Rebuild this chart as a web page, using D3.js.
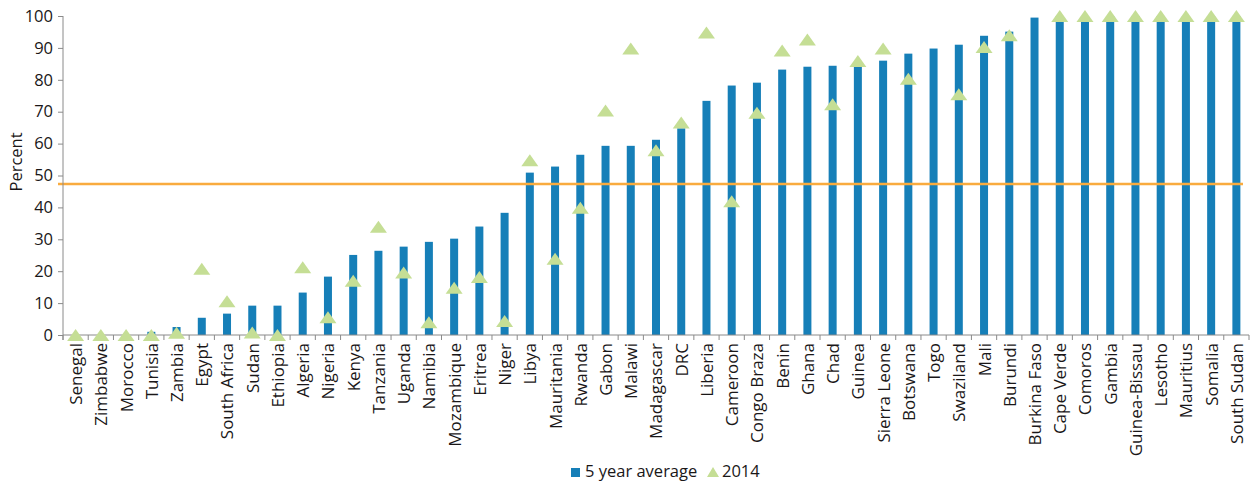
<!DOCTYPE html>
<html>
<head>
<meta charset="utf-8">
<script src="https://cdn.jsdelivr.net/npm/d3@7"></script>
<style>
  html, body { margin: 0; padding: 0; background: #fff; }
  svg { display: block; font-family: "Open Sans", "DejaVu Sans", sans-serif; }
</style>
</head>
<body>
<svg id="chart" width="1255" height="482"></svg>
<script>
// Countries, ordered by their 5-year average
const countries = [
  "Senegal", "Zimbabwe", "Morocco", "Tunisia", "Zambia", "Egypt", "South Africa",
  "Sudan", "Ethiopia", "Algeria", "Nigeria", "Kenya", "Tanzania", "Uganda",
  "Namibia", "Mozambique", "Eritrea", "Niger", "Libya", "Mauritania", "Rwanda",
  "Gabon", "Malawi", "Madagascar", "DRC", "Liberia", "Cameroon", "Congo Braza",
  "Benin", "Ghana", "Chad", "Guinea", "Sierra Leone", "Botswana", "Togo",
  "Swaziland", "Mali", "Burundi", "Burkina Faso", "Cape Verde", "Comoros",
  "Gambia", "Guinea-Bissau", "Lesotho", "Mauritius", "Somalia", "South Sudan"
];

// 5 year average (percent)
const fiveYearAverage = [
  0, 0, 0, 1, 2.5, 5.4, 6.7,
  9.2, 9.2, 13.3, 18.3, 25.1, 26.4, 27.7,
  29.2, 30.2, 34, 38.3, 50.9, 52.8, 56.5,
  59.3, 59.3, 61.2, 64.8, 73.4, 78.2, 79.1,
  83.2, 84.1, 84.4, 85, 86, 88.2, 89.8,
  91, 93.8, 95.1, 99.5, 100, 100,
  100, 100, 100, 100, 100, 100
];

// 2014 value (percent); null where no 2014 figure is shown
const value2014 = [
  0, 0, 0, 0, 0.7, 20.8, 10.6,
  0.8, 0, 21.2, 5.6, 17, 33.9, 19.6,
  4.0, 14.8, 18.2, 4.4, 54.8, 23.9, 39.9,
  70.4, 89.8, 57.9, 66.6, 94.8, 41.9, 69.7,
  89.2, 92.6, 72.3, 85.9, 89.8, 80.3, null,
  75.5, 90.3, 94, null, 100, 100,
  100, 100, 100, 100, 100, 100
];

// Continental average reference line (percent)
const averageLine = 47.3;

const yTicks = [0, 10, 20, 30, 40, 50, 60, 70, 80, 90, 100];
const legendLabels = ["5 year average", "2014"];

const colors = {
  bar: "#167fb8",
  marker: "#c5de95",
  line: "#f9ab3e",
  axis: "#8a8a8a",
  text: "#1a1718"
};

const svg = d3.select("#chart");
const plotLeft = 63, plotRight = 1249, plotTop = 16, plotBottom = 335;

const x = d3.scaleBand().domain(countries).range([plotLeft, plotRight]).padding(0);
const y = d3.scaleLinear().domain([0, 100]).range([plotBottom, plotTop]);

const rows = countries.map((c, i) => ({ c, avg: fiveYearAverage[i], v: value2014[i] }));

// Bars: 5 year average
const barW = 8;
svg.append("g")
  .selectAll("rect")
  .data(rows.filter(d => d.avg > 0))
  .join("rect")
  .attr("x", d => x(d.c) + x.bandwidth() / 2 - barW / 2)
  .attr("y", d => y(d.avg))
  .attr("width", barW)
  .attr("height", d => y(0) - y(d.avg))
  .attr("fill", colors.bar);

// Reference line
svg.append("line")
  .attr("x1", plotLeft - 5).attr("x2", plotRight - 6)
  .attr("y1", y(averageLine)).attr("y2", y(averageLine))
  .attr("stroke", colors.line)
  .attr("stroke-width", 2.5);

// Y axis
const yAxis = svg.append("g")
  .attr("transform", `translate(${plotLeft},0)`)
  .call(d3.axisLeft(y).tickValues(yTicks).tickSize(5).tickPadding(5).tickSizeOuter(0));
yAxis.select(".domain").remove();
yAxis.selectAll(".tick line").attr("stroke", colors.axis);
yAxis.selectAll(".tick text")
  .attr("fill", colors.text)
  .style("font-size", "16.5px")
  .style("font-family", "'Open Sans', sans-serif");
svg.append("line")
  .attr("x1", plotLeft).attr("x2", plotLeft)
  .attr("y1", plotTop).attr("y2", plotBottom + 5)
  .attr("stroke", colors.axis);

// X axis baseline with ticks at category boundaries
svg.append("line")
  .attr("x1", plotLeft).attr("x2", plotRight)
  .attr("y1", plotBottom).attr("y2", plotBottom)
  .attr("stroke", colors.axis);
const bounds = countries.map(c => x(c)).concat([plotRight]);
svg.append("g")
  .selectAll("line")
  .data(bounds)
  .join("line")
  .attr("x1", d => d).attr("x2", d => d)
  .attr("y1", plotBottom).attr("y2", plotBottom + 5)
  .attr("stroke", colors.axis);

// Category labels (rotated)
svg.append("g")
  .selectAll("text")
  .data(countries)
  .join("text")
  .attr("transform", d => `translate(${x(d) + x.bandwidth() / 2},${plotBottom + 8}) rotate(-90)`)
  .attr("dy", "0.38em")
  .attr("text-anchor", "end")
  .attr("fill", colors.text)
  .style("font-size", "17px")
  .text(d => d);

// 2014 markers: triangles
const tri = "M0,-6L8.5,6L-8.5,6Z";
svg.append("g")
  .selectAll("path")
  .data(rows.filter(d => d.v !== null))
  .join("path")
  .attr("transform", d => `translate(${x(d.c) + x.bandwidth() / 2},${y(d.v)})`)
  .attr("d", tri)
  .attr("fill", colors.marker);

// Y axis title
svg.append("text")
  .attr("transform", `translate(22,162) rotate(-90)`)
  .attr("text-anchor", "middle")
  .attr("fill", colors.text)
  .style("font-size", "16.5px")
  .text("Percent");

// Legend
const legend = svg.append("g");
legend.append("rect")
  .attr("x", 571).attr("y", 468).attr("width", 9).attr("height", 9)
  .attr("fill", colors.bar);
legend.append("text")
  .attr("x", 585).attr("y", 477)
  .attr("fill", colors.text)
  .style("font-size", "16.5px")
  .text(legendLabels[0]);
legend.append("path")
  .attr("transform", "translate(713,472)")
  .attr("d", "M0,-5L6,5L-6,5Z")
  .attr("fill", colors.marker);
legend.append("text")
  .attr("x", 722).attr("y", 477)
  .attr("fill", colors.text)
  .style("font-size", "16.5px")
  .text(legendLabels[1]);
</script>
</body>
</html>
